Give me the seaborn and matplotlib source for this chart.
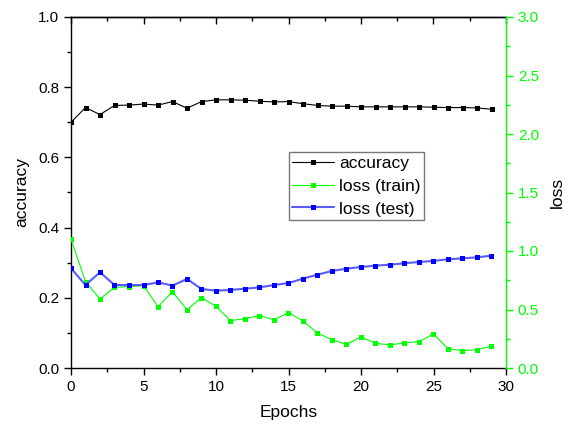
import matplotlib
matplotlib.use("Agg")
import matplotlib.pyplot as plt
import seaborn as sns
import numpy as np
import pandas as pd
from matplotlib.ticker import MultipleLocator, FormatStrFormatter

epochs = list(range(30))
accuracy = [0.700, 0.742, 0.722, 0.748, 0.749, 0.752, 0.749, 0.759, 0.740, 0.759,
            0.764, 0.764, 0.763, 0.760, 0.758, 0.759, 0.753, 0.748, 0.746, 0.746,
            0.744, 0.744, 0.744, 0.744, 0.744, 0.743, 0.742, 0.742, 0.741, 0.737]
loss_train = [1.10, 0.738, 0.590, 0.690, 0.695, 0.704, 0.524, 0.652, 0.498, 0.601,
              0.527, 0.405, 0.422, 0.447, 0.413, 0.473, 0.402, 0.299, 0.242, 0.202,
              0.265, 0.211, 0.197, 0.214, 0.225, 0.291, 0.165, 0.148, 0.157, 0.188]
loss_test = [0.852, 0.709, 0.818, 0.709, 0.709, 0.709, 0.732, 0.704, 0.761, 0.675,
             0.661, 0.667, 0.678, 0.689, 0.709, 0.726, 0.764, 0.798, 0.829, 0.849,
             0.863, 0.875, 0.883, 0.895, 0.906, 0.915, 0.929, 0.937, 0.946, 0.960]

sns.set_style("white")
plt.rcParams['font.family'] = ['Liberation Sans', 'DejaVu Sans']
plt.rcParams['text.color'] = 'black'
plt.rcParams['axes.labelcolor'] = 'black'
plt.rcParams['xtick.color'] = 'black'
plt.rcParams['ytick.color'] = 'black'

df = pd.DataFrame({"Epochs": epochs, "accuracy": accuracy,
                   "loss_train": loss_train, "loss_test": loss_test})

fig = plt.figure(figsize=(5.69, 4.25), dpi=100)
ax = fig.add_axes([71/569, 57/425, 435/569, 351/425])
ax2 = ax.twinx()

GREEN = '#00ff00'

sns.lineplot(data=df, x="Epochs", y="accuracy", ax=ax, color='black', lw=0.8,
             marker='s', markersize=3.6, markeredgewidth=0, label='accuracy', legend=False)
sns.lineplot(data=df, x="Epochs", y="loss_train", ax=ax2, color=GREEN, lw=0.8,
             marker='s', markersize=3.6, markeredgewidth=0, label='loss (train)', legend=False)
sns.lineplot(data=df, x="Epochs", y="loss_test", ax=ax2, color='#5a5aff', lw=1.5,
             marker='s', markersize=3.6, markerfacecolor='#0000ff', markeredgewidth=0,
             label='loss (test)', legend=False)

ax.set_xlim(0, 30)
ax.set_ylim(0, 1.0)
ax2.set_ylim(0, 3.0)

ax.xaxis.set_major_locator(MultipleLocator(5))
ax.xaxis.set_minor_locator(MultipleLocator(2.5))
ax.yaxis.set_major_locator(MultipleLocator(0.2))
ax.yaxis.set_minor_locator(MultipleLocator(0.1))
ax2.yaxis.set_major_locator(MultipleLocator(0.5))
ax2.yaxis.set_minor_locator(MultipleLocator(0.25))
ax.yaxis.set_major_formatter(FormatStrFormatter('%.1f'))
ax2.yaxis.set_major_formatter(FormatStrFormatter('%.1f'))

for s in ['left', 'bottom', 'top']:
    ax.spines[s].set_color('black')
    ax.spines[s].set_linewidth(1.0)
ax.spines['right'].set_visible(False)
for s in ['left', 'bottom', 'top']:
    ax2.spines[s].set_visible(False)
ax2.spines['right'].set_color(GREEN)
ax2.spines['right'].set_linewidth(1.0)

ax.tick_params(axis='both', which='major', direction='out', length=5, width=1,
               labelsize=11, colors='black', bottom=True, left=True)
ax.tick_params(axis='both', which='minor', direction='out', length=3, width=1,
               colors='black', bottom=True, left=True)
ax2.tick_params(axis='y', which='major', direction='out', length=5, width=1,
                labelsize=11, colors=GREEN, right=True)
ax2.tick_params(axis='y', which='minor', direction='out', length=3, width=1,
                color=GREEN, right=True)

sec = ax.secondary_xaxis('top')
sec.xaxis.set_major_locator(MultipleLocator(5))
sec.xaxis.set_minor_locator(MultipleLocator(2.5))
sec.tick_params(axis='x', which='major', direction='in', length=5, width=1,
                labeltop=False, colors='black')
sec.tick_params(axis='x', which='minor', direction='in', length=3, width=1, colors='black')
sec.spines['top'].set_linewidth(1.0)
sec.spines['top'].set_color('black')

ax.set_xlabel("Epochs", fontsize=12.5, labelpad=8)
ax.set_ylabel("accuracy", fontsize=12.5, labelpad=6)
ax2.set_ylabel("loss", fontsize=12.5, labelpad=8, color='black')

h1, l1 = ax.get_legend_handles_labels()
h2, l2 = ax2.get_legend_handles_labels()
leg = ax2.legend(h1 + h2, l1 + l2, loc='upper left',
                 bbox_to_anchor=(289/569, 1 - 152/425), bbox_transform=fig.transFigure,
                 fontsize=12.5, frameon=True, fancybox=False, edgecolor='#555555',
                 handlelength=2.4, handletextpad=0.3, borderpad=0.2, labelspacing=0.45,
                 borderaxespad=0)
leg.get_frame().set_linewidth(1.0)
for t in leg.get_texts():
    t.set_color('black')

fig.savefig("out.png", dpi=100)
